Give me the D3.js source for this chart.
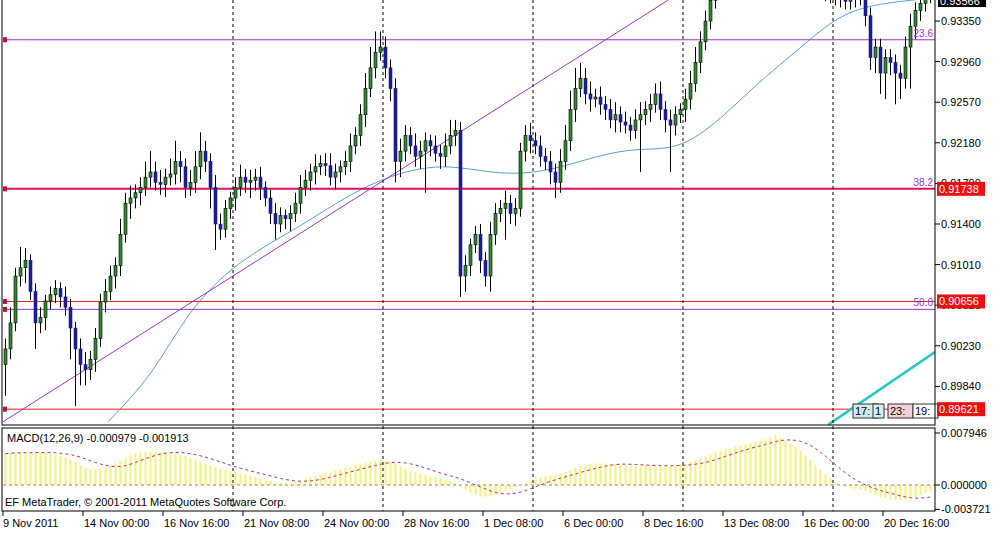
<!DOCTYPE html>
<html>
<head>
<meta charset="utf-8">
<script src="https://cdn.jsdelivr.net/npm/d3@7"></script>
<style>
  body { margin: 0; background: #fff; }
  text { font-family: "Liberation Sans", Arial, sans-serif; font-size: 11px; fill: #000; }
</style>
</head>
<body>
<svg id="chart" width="1001" height="538"></svg>
<script>
// prices in pips (x 0.0001), one entry per H4 bar
const closes = [
  9020,9045,9090,9098,9105,9075,9045,9050,9066,9072,
  9078,9070,9060,9040,9020,9005,9000,9010,9030,9065,
  9075,9090,9100,9130,9160,9165,9170,9175,9185,9190,
  9180,9178,9185,9188,9200,9195,9175,9180,9195,9210,
  9200,9175,9140,9135,9155,9165,9175,9185,9180,9182,
  9185,9175,9165,9150,9140,9148,9145,9150,9160,9175,
  9182,9190,9195,9198,9196,9185,9190,9195,9200,9215,
  9225,9245,9270,9290,9305,9310,9290,9270,9200,9210,
  9225,9215,9205,9210,9220,9215,9208,9205,9215,9225,
  9230,9090,9100,9120,9130,9105,9090,9130,9150,9155,
  9160,9150,9155,9210,9225,9220,9215,9205,9200,9190,
  9180,9200,9220,9250,9270,9280,9265,9260,9262,9255,
  9250,9240,9245,9238,9235,9230,9240,9245,9250,9255,
  9265,9250,9240,9235,9245,9250,9260,9275,9295,9315,
  9335,9355,9365,9375,9380,9378,9385,9390,9388,9395,
  9400,9398,9405,9410,9408,9400,9395,9390,9385,9380,
  9378,9372,9368,9365,9362,9360,9358,9356,9354,9356,
  9360,9358,9340,9300,9310,9285,9300,9295,9285,9280,
  9310,9330,9345,9352,9360,9365
];
const upWick = [
  10,15,8,20,12,6,8,10,6,8, 8,6,10,8,6,10,12,8,10,8,
  12,10,8,15,10,12,8,10,15,20, 10,12,8,15,20,10,8,12,15,18,
  10,8,12,10,8,6,10,12,8,10, 8,10,6,8,10,8,6,8,10,12,
  10,8,12,8,10,12,8,6,10,12, 8,10,15,20,20,15,10,8,10,12,
  10,8,12,10,8,6,10,8,12,15, 10,8,10,6,8,10,8,12,10,8,
  12,8,10,8,10,12,8,10,8,10, 8,12,15,18,20,15,10,12,8,10,
  8,10,12,8,10,8,10,12,8,10, 10,12,8,10,8,6,10,12,15,10,
  10,8,8,8,8,8,8,8,8,8, 8,8,8,8,8,8,8,8,8,8,
  8,8,8,8,8,8,8,8,8,8, 8,8,8,8,8,8,8,8,8,8,
  10,12,8,10,12,8
];
const downWick = [
  30,10,8,10,15,8,25,10,12,8, 8,10,8,30,55,20,15,10,12,8,
  10,8,12,10,8,15,10,12,8,10, 8,10,12,8,10,15,10,8,10,12,
  10,20,25,10,8,10,12,8,10,15, 10,12,8,10,15,8,10,12,8,10,
  8,10,12,8,10,8,12,10,8,10, 8,10,12,8,10,8,10,12,20,15,
  10,8,10,12,40,10,8,12,10,8, 10,20,15,10,8,12,10,15,10,8,
  30,10,12,8,10,12,8,10,8,12, 15,10,8,10,12,8,10,12,8,10,
  10,8,12,10,8,10,8,50,10,12, 8,10,12,45,10,8,12,10,8,10,
  8,8,8,8,8,8,8,8,8,8, 8,8,8,8,8,8,8,8,8,8,
  8,8,8,8,8,8,8,8,8,8, 8,8,10,12,15,20,25,12,30,20,
  10,40,12,10,8,8
];
// moving average read at selected bars: [bar, pips]
const maPoints = [
  [21,8950],[30,8995],[37,9057],[47,9105],[59,9136],[69,9168],[79,9190],[89,9198],
  [99,9187],[109,9190],[119,9206],[127,9213],[135,9211],[143,9238],[151,9276],
  [159,9307],[167,9341],[175,9352],[186,9357]
];
// MACD main line, x 0.001
const macd = [
  4.8,4.9,5,5,5,5,5,5,4.9,4.8,4.6,4.4,4.2,3.9,3.5,3.0,
  2.6,2.4,2.4,2.5,2.7,3.0,3.3,3.7,4.1,4.5,4.8,5.0,5.1,5.1,
  5.1,5.0,5.0,4.9,4.8,4.6,4.4,4.1,3.8,3.5,3.2,3.0,2.7,2.5,2.3,2.1,
  2.0,1.8,1.6,1.4,1.2,1.0,0.8,0.6,0.4,0.3,0.3,0.4,0.6,0.8,1.0,
  1.2,1.4,1.6,1.8,2.0,2.2,2.4,2.6,2.8,3.0,3.2,3.4,3.6,3.7,3.8,3.7,3.6,3.2,2.8,
  2.5,2.2,2.0,1.8,1.6,1.4,1.2,1.0,0.8,0.6,0.3,-0.3,-0.8,-1.2,-1.5,-1.7,-1.8,-1.7,-1.5,-1.2,
  -0.9,-0.6,-0.3,0,0.3,0.6,0.9,1.2,1.4,1.5,1.6,1.8,2.0,2.3,2.6,2.9,3.1,3.2,3.3,3.3,
  3.3,3.2,3.2,3.1,3.0,2.9,2.9,2.9,2.9,3.0,3.1,3.0,2.9,2.9,3.0,3.1,3.3,3.5,3.8,4.1,
  4.4,4.7,5.0,5.2,5.4,5.6,5.8,6.0,6.2,6.4,6.6,6.8,7.0,7.3,7.6,7.2,6.8,6.3,5.8,5.2,
  4.5,3.8,3.1,2.4,1.7,1.0,0.4,0,-0.3,-0.5,-0.6,-0.7,-0.9,-1.2,-1.5,-1.8,-2.0,-2.2,-2.3,-2.3,
  -2.2,-2.0,-1.8,-1.5,-1.2,-1.0
];
const priceTicks = [0.93350,0.92960,0.92570,0.92180,0.91790,0.91400,0.91010,0.90620,0.90230,0.89840];
const macdTicks = [0.007946,0,-0.003721];
const timeLabels = ["9 Nov 2011","14 Nov 00:00","16 Nov 16:00","21 Nov 08:00","24 Nov 00:00","28 Nov 16:00",
  "1 Dec 08:00","6 Dec 00:00","8 Dec 16:00","13 Dec 08:00","16 Dec 00:00","20 Dec 16:00"];
const gridBars = [46,76,106,136,166];
// horizontal levels: [price, colour, width, tag box text, fib label]
const levels = [
  [0.93170,"#9933cc",1,null,"23.6"],
  [0.91738,"#e0105a",2,"0.91738","38.2"],
  [0.90656,"#e02020",1,"0.90656",null],
  [0.90580,"#9933cc",1,null,"50.0"],
  [0.89621,"#e02020",1,"0.89621",null]
];
const trendLines = [
  {from:[0,0.8950], to:[133,0.9355], color:"#9933cc", width:1},
  {from:[165,0.8947], to:[186.4,0.9017], color:"#20c8c0", width:2.5}
];

const svg = d3.select("#chart");
const left = 3, right = 935, mainTop = 0, mainBot = 425, macdTop = 428, macdBot = 511;
const n = closes.length;
const x = d3.scaleLinear().domain([0, n]).range([left, left + n * 5]);
const y = d3.scaleLinear().domain([0.89469, 0.93552]).range([mainBot, mainTop]);
const ym = d3.scaleLinear().domain([0, 0.007946]).range([485, 433]);

svg.append("defs").append("clipPath").attr("id", "mainClip")
  .append("rect").attr("x", left).attr("y", mainTop).attr("width", right - left).attr("height", mainBot - mainTop);
svg.select("defs").append("clipPath").attr("id", "macdClip")
  .append("rect").attr("x", left).attr("y", macdTop).attr("width", right - left).attr("height", macdBot - macdTop);

const main = svg.append("g").attr("clip-path", "url(#mainClip)");
const sub = svg.append("g").attr("clip-path", "url(#macdClip)");

// vertical dashed grid
gridBars.forEach(b => {
  svg.append("line").attr("x1", x(b)).attr("x2", x(b)).attr("y1", 0).attr("y2", macdBot)
    .attr("stroke", "#000").attr("stroke-dasharray", "3,3");
});

// MA
main.append("path").datum(maPoints)
  .attr("d", d3.line().x(d => x(d[0])).y(d => y(d[1] / 10000)).curve(d3.curveBasis))
  .attr("fill", "none").attr("stroke", "#5aa0d8").attr("stroke-width", 1);

// levels
levels.forEach(l => {
  main.append("line").attr("x1", left).attr("x2", right).attr("y1", y(l[0])).attr("y2", y(l[0]))
    .attr("stroke", l[1]).attr("stroke-width", l[2]);
  main.append("rect").attr("x", left - 1).attr("y", y(l[0]) - 2.5).attr("width", 5).attr("height", 5).attr("fill", "#c01040");
  if (l[4]) svg.append("text").attr("x", right - 2).attr("y", y(l[0]) - 3).attr("text-anchor", "end")
    .style("fill", "#9933cc").style("font-size", "10px").text(l[4]);
});

// trend lines
trendLines.forEach(t => {
  main.append("line").attr("x1", x(t.from[0])).attr("y1", y(t.from[1]))
    .attr("x2", x(t.to[0])).attr("y2", y(t.to[1]))
    .attr("stroke", t.color).attr("stroke-width", t.width);
});

// candles
const bars = closes.map((c, i) => {
  const o = i === 0 ? 9005 : closes[i - 1];
  return { i, o: o / 1e4, c: c / 1e4, h: (Math.max(o, c) + upWick[i]) / 1e4, l: (Math.min(o, c) - downWick[i]) / 1e4 };
});
const cg = main.append("g");
cg.selectAll("line").data(bars).join("line")
  .attr("x1", d => x(d.i + 0.5)).attr("x2", d => x(d.i + 0.5))
  .attr("y1", d => y(d.h)).attr("y2", d => y(d.l)).attr("stroke", "#000");
cg.selectAll("rect").data(bars).join("rect")
  .attr("x", d => x(d.i + 0.5) - 1.5).attr("width", 3)
  .attr("y", d => y(Math.max(d.o, d.c))).attr("height", d => Math.max(1, Math.abs(y(d.o) - y(d.c))))
  .attr("fill", d => d.c >= d.o ? "#2e8b2e" : "#1c1c8c")
  .attr("stroke", d => d.c >= d.o ? "#000" : "#1c1c8c").attr("stroke-width", 0.6);

// small time boxes
[[853,"17:","#cfeeee"],[873,"1","#cfeeee"],[888,"23:","#f6d0d8"],[913,"19:","#ffffff"]].forEach(b => {
  svg.append("rect").attr("x", b[0]).attr("y", 404).attr("width", b[1].length * 7 + 4).attr("height", 14)
    .attr("fill", b[2]).attr("stroke", "#333");
  svg.append("text").attr("x", b[0] + 2).attr("y", 415).text(b[1]);
});

// MACD histogram and signal
const macdData = macd.map((v, i) => ({ i, v: v / 1000 }));
sub.selectAll("line.h").data(macdData).join("line").attr("class", "h")
  .attr("x1", d => x(d.i + 0.5)).attr("x2", d => x(d.i + 0.5))
  .attr("y1", ym(0)).attr("y2", d => ym(d.v)).attr("stroke", "#f5f07a").attr("stroke-width", 2);
const signal = macdData.map((d, i) => {
  const w = macdData.slice(Math.max(0, i - 8), i + 1);
  return { i, v: d3.mean(w, e => e.v) };
});
sub.append("line").attr("x1", left).attr("x2", right).attr("y1", ym(0)).attr("y2", ym(0))
  .attr("stroke", "#a08060").attr("stroke-dasharray", "3,3");
sub.append("path").datum(signal)
  .attr("d", d3.line().x(d => x(d.i + 0.5)).y(d => ym(d.v)))
  .attr("fill", "none").attr("stroke", "#b03070").attr("stroke-dasharray", "3,3");
svg.append("text").attr("x", 7).attr("y", 442).text("MACD(12,26,9) -0.000979 -0.001913");
svg.append("text").attr("x", 5).attr("y", 506).text("EF MetaTrader, © 2001-2011 MetaQuotes Software Corp.");

// borders
svg.append("rect").attr("x", 2).attr("y", -1).attr("width", right - 2).attr("height", mainBot + 1)
  .attr("fill", "none").attr("stroke", "#000");
svg.append("rect").attr("x", 2).attr("y", macdTop).attr("width", right - 2).attr("height", macdBot - macdTop)
  .attr("fill", "none").attr("stroke", "#000");

// price axis
const pa = svg.append("g");
priceTicks.forEach(p => {
  pa.append("line").attr("x1", right).attr("x2", right + 5).attr("y1", y(p)).attr("y2", y(p)).attr("stroke", "#000");
  pa.append("text").attr("x", right + 6).attr("y", y(p) + 4).text(p.toFixed(5));
});
pa.append("rect").attr("x", right + 3).attr("y", -6).attr("width", 48).attr("height", 13).attr("fill", "#000");
pa.append("text").attr("x", right + 5).attr("y", 5).style("fill", "#fff").text("0.93566");
levels.filter(l => l[3]).forEach(l => {
  pa.append("rect").attr("x", right + 2).attr("y", y(l[0]) - 7).attr("width", 48).attr("height", 14).attr("fill", "#e81010");
  pa.append("text").attr("x", right + 4).attr("y", y(l[0]) + 4).style("fill", "#fff").text(l[3]);
});
macdTicks.forEach(m => {
  svg.append("line").attr("x1", right).attr("x2", right + 5).attr("y1", ym(m / 1)).attr("y2", ym(m)).attr("stroke", "#000");
  svg.append("text").attr("x", right + 6).attr("y", ym(m) + 4).text(m === 0 ? "0.000000" : m.toFixed(6));
});

// time axis
timeLabels.forEach((t, k) => {
  const tx = x(k * 16);
  svg.append("line").attr("x1", tx).attr("x2", tx).attr("y1", macdBot).attr("y2", macdBot + 5).attr("stroke", "#000");
  svg.append("text").attr("x", k === 0 ? tx : tx + 1).attr("y", 527).text(t);
});
</script>
</body>
</html>
